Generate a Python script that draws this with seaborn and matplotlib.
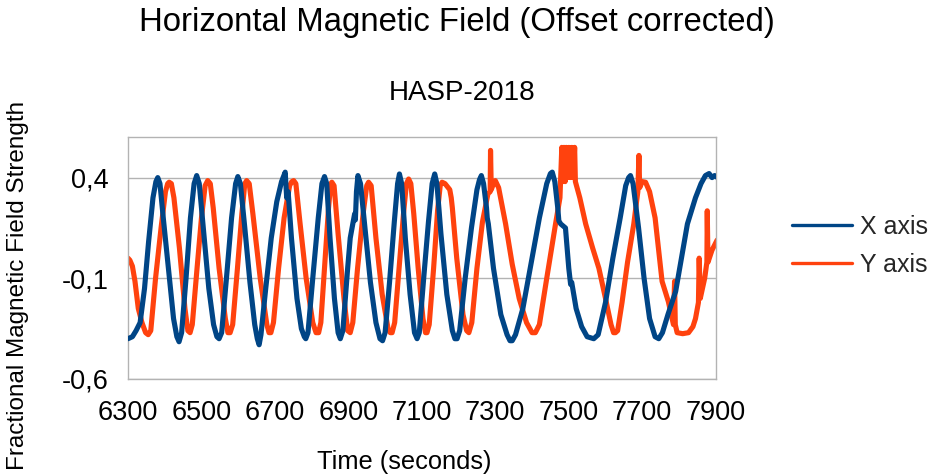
import numpy as np
import pandas as pd
import matplotlib
matplotlib.use("Agg")
import matplotlib.pyplot as plt
import seaborn as sns

# ---- data ----
x_time = [6300, 6312, 6322, 6333, 6345, 6356, 6368, 6376, 6381, 6387, 6396, 6410, 6424, 6433, 6439,
          6446, 6458, 6470, 6480, 6487, 6494, 6505, 6520, 6533, 6542, 6548, 6555, 6568, 6582, 6593,
          6599, 6606, 6618, 6632, 6645, 6652, 6657, 6662, 6675, 6690, 6705, 6718, 6728, 6732, 6736,
          6745, 6760, 6772, 6780, 6784, 6790, 6803, 6818, 6828, 6835, 6841, 6850, 6862, 6872, 6878,
          6885, 6898, 6905, 6917, 6919, 6922, 6926, 6933, 6945, 6960, 6975, 6986, 6993, 7000, 7012,
          7025, 7034, 7039, 7045, 7055, 7068, 7080, 7087, 7093, 7105, 7118, 7128, 7135, 7141, 7152,
          7168, 7183, 7190, 7196, 7203, 7218, 7235, 7250, 7257, 7262, 7268, 7276, 7278, 7281, 7295,
          7315, 7332, 7340, 7346, 7355, 7375, 7395, 7420, 7440, 7450, 7455, 7462, 7470, 7473, 7478,
          7491, 7500, 7505, 7508, 7520, 7535, 7550, 7568, 7580, 7600, 7620, 7640, 7655, 7663, 7668,
          7675, 7690, 7705, 7720, 7735, 7745, 7755, 7770, 7791, 7823, 7845, 7860, 7872, 7882, 7890,
          7897, 7905]
x_value = [-0.40, -0.39, -0.36, -0.32, -0.15, 0.08, 0.30, 0.38, 0.40, 0.37, 0.20, -0.05, -0.30, -0.39, -0.415,
           -0.37, -0.10, 0.20, 0.37, 0.41, 0.37, 0.15, -0.15, -0.33, -0.39, -0.40, -0.37, -0.10, 0.20, 0.37,
           0.405, 0.37, 0.15, -0.12, -0.33, -0.40, -0.43, -0.38, -0.15, 0.10, 0.28, 0.38, 0.427, 0.30, 0.33,
           0.10, -0.20, -0.35, -0.39, -0.40, -0.37, -0.10, 0.20, 0.37, 0.405, 0.37, 0.10, -0.20, -0.37, -0.40,
           -0.36, -0.05, 0.10, 0.22, 0.19, 0.33, 0.41, 0.37, 0.15, -0.12, -0.32, -0.40, -0.41, -0.37, -0.12,
           0.18, 0.37, 0.418, 0.37, 0.10, -0.18, -0.37, -0.40, -0.37, -0.10, 0.18, 0.37, 0.418, 0.37, 0.12,
           -0.18, -0.36, -0.40, -0.40, -0.36, -0.10, 0.15, 0.34, 0.39, 0.41, 0.37, 0.25, 0.20, 0.17, -0.05,
           -0.28, -0.38, -0.41, -0.41, -0.38, -0.25, -0.05, 0.20, 0.37, 0.42, 0.427, 0.38, 0.25, 0.185, 0.17,
           0.15, -0.05, -0.13, -0.12, -0.25, -0.34, -0.39, -0.40, -0.38, -0.22, 0.00, 0.20, 0.36, 0.40, 0.41,
           0.37, 0.15, -0.10, -0.30, -0.39, -0.40, -0.37, -0.28, -0.165, 0.17, 0.30, 0.37, 0.41, 0.42, 0.40,
           0.41, 0.40]

y_time = [6300, 6305, 6312, 6319, 6328, 6338, 6348, 6355, 6362, 6375, 6390, 6402, 6408, 6412, 6418,
          6425, 6440, 6455, 6463, 6469, 6475, 6488, 6500, 6510, 6517, 6524, 6532, 6548, 6565, 6572,
          6578, 6585, 6598, 6610, 6618, 6623, 6630, 6640, 6660, 6678, 6684, 6689, 6696, 6710, 6725,
          6740, 6746, 6751, 6757, 6768, 6785, 6803, 6812, 6819, 6825, 6835, 6846, 6852, 6855, 6861,
          6872, 6888, 6898, 6905, 6912, 6925, 6940, 6950, 6955, 6962, 6975, 6992, 7008, 7014, 7019,
          7026, 7038, 7050, 7058, 7064, 7070, 7078, 7090, 7103, 7110, 7114, 7120, 7132, 7143, 7150,
          7155, 7163, 7176, 7180, 7183, 7195, 7212, 7222, 7228, 7236, 7250, 7265, 7280, 7286, 7287,
          7289, 7295, 7300, 7309, 7328, 7346, 7365, 7385, 7400, 7409, 7420, 7440, 7464, 7476, 7481,
          7484, 7487, 7490, 7493, 7496, 7500, 7504, 7508, 7512, 7516, 7518, 7530, 7546, 7565, 7582,
          7600, 7615, 7622, 7627, 7633, 7645, 7660, 7677, 7688, 7691, 7693, 7700, 7709, 7720, 7735,
          7754, 7771, 7785, 7788, 7790, 7795, 7810, 7826, 7838, 7845, 7853, 7855, 7858, 7870, 7876,
          7877, 7879, 7890, 7904]
y_value = [0.00, -0.01, -0.04, -0.115, -0.25, -0.32, -0.37, -0.38, -0.36, -0.10, 0.15, 0.33, 0.37, 0.377, 0.37,
           0.30, 0.05, -0.25, -0.36, -0.37, -0.33, -0.05, 0.20, 0.36, 0.385, 0.37, 0.25, -0.05, -0.30, -0.37,
           -0.37, -0.33, -0.05, 0.22, 0.37, 0.385, 0.37, 0.22, -0.10, -0.33, -0.37, -0.37, -0.32, -0.05, 0.20,
           0.36, 0.38, 0.385, 0.37, 0.18, -0.10, -0.32, -0.37, -0.37, -0.32, -0.05, 0.25, 0.37, 0.377, 0.36,
           0.12, -0.20, -0.36, -0.37, -0.32, -0.05, 0.22, 0.36, 0.377, 0.36, 0.10, -0.18, -0.35, -0.37, -0.37,
           -0.32, -0.05, 0.22, 0.37, 0.393, 0.37, 0.22, -0.05, -0.30, -0.37, -0.37, -0.33, -0.05, 0.24, 0.36,
           0.377, 0.37, 0.34, 0.30, 0.25, 0.00, -0.28, -0.36, -0.37, -0.32, -0.05, 0.18, 0.32, 0.33, 0.535,
           0.34, 0.37, 0.385, 0.35, 0.17, -0.03, -0.20, -0.32, -0.37, -0.37, -0.33, -0.10, 0.17, 0.30, 0.55,
           0.38, 0.55, 0.38, 0.55, 0.40, 0.55, 0.40, 0.55, 0.40, 0.55, 0.38, 0.30, 0.17, 0.05, -0.05,
           -0.20, -0.33, -0.37, -0.37, -0.36, -0.22, -0.02, 0.17, 0.33, 0.51, 0.35, 0.38, 0.377, 0.33, 0.20,
           -0.115, -0.215, -0.33, -0.115, -0.33, -0.37, -0.375, -0.37, -0.34, -0.30, -0.22, 0.00, -0.20, -0.10, -0.02,
           0.235, -0.02, 0.04, 0.09]

series_names = ["X axis", "Y axis"]
series_colors = ["#004586", "#ff420e"]
x_ticks = [6300, 6500, 6700, 6900, 7100, 7300, 7500, 7700, 7900]
y_ticks = [-0.6, -0.1, 0.4]
y_tick_labels = ["-0,6", "-0,1", "0,4"]

title = "Horizontal Magnetic Field (Offset corrected)"
subtitle = "HASP-2018"
x_label = "Time (seconds)"
y_label = "Fractional Magnetic Field Strength"

# ---- build long-form table ----
df = pd.concat([
    pd.DataFrame({"time": x_time, "value": x_value, "series": series_names[0]}),
    pd.DataFrame({"time": y_time, "value": y_value, "series": series_names[1]}),
], ignore_index=True)

sns.set_theme(style="white")
plt.rcParams["font.family"] = ["Liberation Sans", "DejaVu Sans"]

W, H = 935, 476
fig = plt.figure(figsize=(W / 100, H / 100), dpi=100)
ax = fig.add_axes([128 / W, (H - 379) / H, (715.7 - 128) / W, (379 - 137.3) / H])

grid_c = "#b3b3b3"
for yv in y_ticks:
    ax.axhline(yv, color=grid_c, lw=1.0, zorder=0)

# draw Y axis first so X axis is on top
for name, col, z in [(series_names[1], series_colors[1], 2), (series_names[0], series_colors[0], 3)]:
    sub = df[df["series"] == name]
    sns.lineplot(data=sub, x="time", y="value", sort=False, estimator=None, color=col,
                 lw=3.7, ax=ax, zorder=z, legend=False,
                 solid_joinstyle="round", solid_capstyle="round")

ax.set_xlim(6300, 7900)
ax.set_ylim(-0.6, 0.6)
ax.set_xticks(x_ticks)
ax.set_xticklabels([str(t) for t in x_ticks])
ax.set_yticks(y_ticks)
ax.set_yticklabels(y_tick_labels)
ax.set_xlabel("")
ax.set_ylabel("")
for s in ax.spines.values():
    s.set_color(grid_c)
    s.set_linewidth(1.0)
ax.tick_params(axis="both", which="major", direction="out", length=8, width=1.0,
               color=grid_c, labelsize=19.5, labelcolor="black")
ax.tick_params(axis="x", pad=7)
ax.tick_params(axis="y", pad=6)

fig.text(0.489, 1 - 22 / H, title, ha="center", va="center", fontsize=23.7, color="black")
fig.text(462 / W, 1 - 93 / H, subtitle, ha="center", va="center", fontsize=20, color="black")
fig.text(404 / W, 1 - 462 / H, x_label, ha="center", va="center", fontsize=18.3, color="black")
fig.text(18 / W, 1 - 285 / H, y_label, ha="center", va="center", rotation=90, fontsize=17.5, color="black")

handles = [plt.Line2D([], [], color=c, lw=2.4) for c in series_colors]
fig.legend(handles, series_names, loc="center left", bbox_to_anchor=(792 / W, 1 - 246 / H),
           frameon=False, fontsize=18, handlelength=2.4, handletextpad=0.32, labelspacing=0.55,
           borderpad=0, borderaxespad=0)

fig.savefig("out.png", dpi=100)
